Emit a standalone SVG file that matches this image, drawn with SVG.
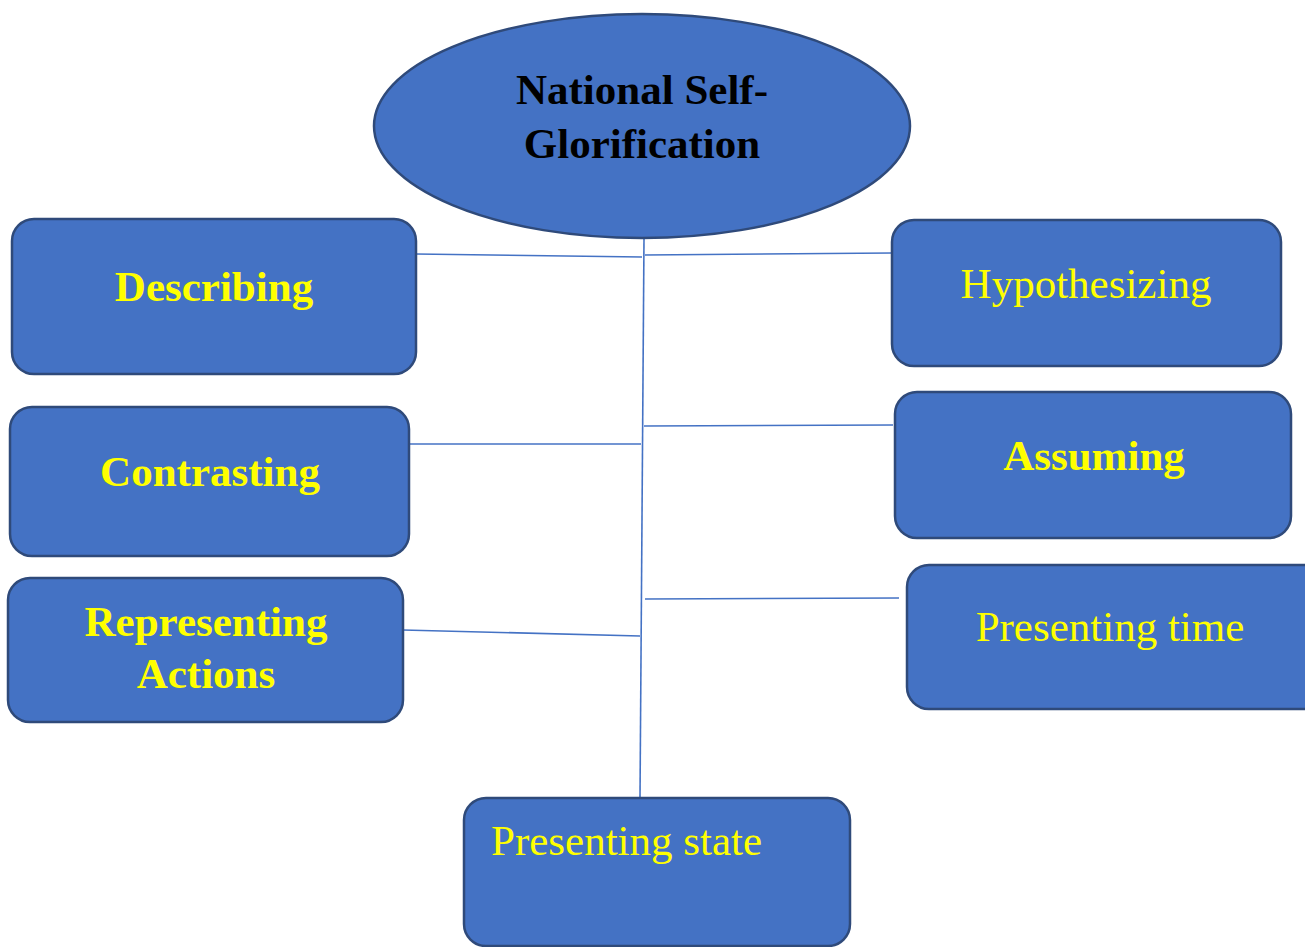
<svg xmlns="http://www.w3.org/2000/svg" width="1305" height="947" viewBox="0 0 1305 947">
<style>
.box{fill:#4472C4;stroke:#2F4A7A;stroke-width:2.5}
.lbl{font-family:"Liberation Serif","Times New Roman",serif;font-size:43px;fill:#FFFF00}
.b{font-weight:bold}
.title{font-family:"Liberation Serif","Times New Roman",serif;font-size:43px;font-weight:bold;fill:#000}
.conn line{stroke:#4472C4;stroke-width:1.6}
</style>
<rect width="1305" height="947" fill="#fff"/>
<g id="connectors" class="conn">
<line x1="644" y1="238" x2="640" y2="798"/>
<line x1="416" y1="254" x2="642" y2="257"/>
<line x1="645" y1="255" x2="892" y2="253"/>
<line x1="410" y1="444" x2="641" y2="444"/>
<line x1="644" y1="426" x2="893" y2="425"/>
<line x1="403" y1="630" x2="640" y2="636"/>
<line x1="645" y1="599" x2="899" y2="598"/>
</g>
<g id="root">
<ellipse class="box" cx="642" cy="126" rx="268" ry="112"/>
<text class="title" x="642" y="104" text-anchor="middle">National Self-</text>
<text class="title" x="642" y="158" text-anchor="middle">Glorification</text>
</g>
<g id="describing">
<rect class="box" x="12" y="219" width="404" height="155" rx="22"/>
<text class="lbl b" x="214" y="301" text-anchor="middle">Describing</text>
</g>
<g id="hypothesizing">
<rect class="box" x="892" y="220" width="389" height="146" rx="22"/>
<text class="lbl" x="1086" y="298" text-anchor="middle">Hypothesizing</text>
</g>
<g id="contrasting">
<rect class="box" x="10" y="407" width="399" height="149" rx="22"/>
<text class="lbl b" x="210" y="486" text-anchor="middle">Contrasting</text>
</g>
<g id="assuming">
<rect class="box" x="895" y="392" width="396" height="146" rx="22"/>
<text class="lbl b" x="1094" y="470" text-anchor="middle">Assuming</text>
</g>
<g id="representing">
<rect class="box" x="8" y="578" width="395" height="144" rx="22"/>
<text class="lbl b" x="206" y="636" text-anchor="middle">Representing</text>
<text class="lbl b" x="206" y="688" text-anchor="middle">Actions</text>
</g>
<g id="presenting-time">
<rect class="box" x="907" y="565" width="420" height="144" rx="22"/>
<text class="lbl" x="1110" y="641" text-anchor="middle">Presenting time</text>
</g>
<g id="presenting-state">
<rect class="box" x="464" y="798" width="386" height="148" rx="22"/>
<text class="lbl" x="491" y="855">Presenting state</text>
</g>
</svg>
